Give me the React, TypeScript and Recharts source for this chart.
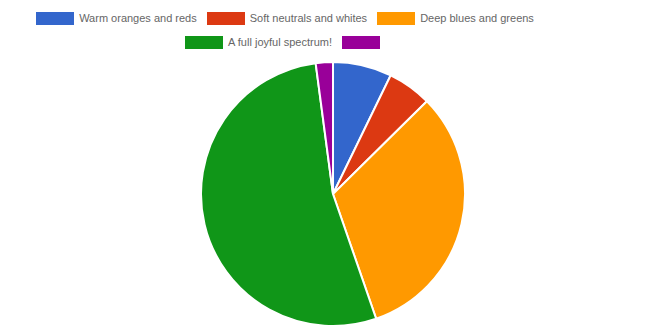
import React from 'react';
import { PieChart, Pie, Cell } from 'recharts';

const categories = [
  'Warm oranges and reds',
  'Soft neutrals and whites',
  'Deep blues and greens',
  'A full joyful spectrum!',
  '',
];
const values = [7.2, 5.4, 32.1, 53.2, 2.1];
const colors = ['#3366cc', '#dc3912', '#ff9900', '#109618', '#990099'];

const data = categories.map((name, i) => ({ name, value: values[i] }));

// legend rows, same split as the chart lays out at this width
const legendRows = [[0, 1, 2], [3, 4]];

const LegendBox = () => (
  <div
    style={{
      position: 'absolute',
      left: 0,
      top: 6,
      width: 570,
      fontFamily: '"Liberation Sans", Arial, sans-serif',
      fontSize: 11,
      color: '#666',
    }}
  >
    {legendRows.map((row, r) => (
      <div key={r} style={{ display: 'flex', justifyContent: 'center', height: 24, alignItems: 'center' }}>
        {row.map((idx, i) => (
          <div key={idx} style={{ display: 'flex', alignItems: 'center', marginRight: i < row.length - 1 ? 10 : 0 }}>
            <span style={{ display: 'inline-block', width: 38, height: 13, background: colors[idx], marginRight: 5 }} />
            {categories[idx] ? <span>{categories[idx]}</span> : null}
          </div>
        ))}
      </div>
    ))}
  </div>
);

export default function App() {
  return (
    <div style={{ position: 'absolute', left: 0, top: 0, width: 666, height: 330, background: '#fff' }}>
      <PieChart width={666} height={330} margin={{ top: 0, right: 0, bottom: 0, left: 0 }}>
        <Pie
          data={data}
          dataKey="value"
          nameKey="name"
          cx={333}
          cy={194}
          outerRadius={132}
          startAngle={90}
          endAngle={-270}
          stroke="#fff"
          strokeWidth={2}
          isAnimationActive={false}
        >
          {data.map((d, i) => (
            <Cell key={i} fill={colors[i]} />
          ))}
        </Pie>
      </PieChart>
      <LegendBox />
    </div>
  );
}
